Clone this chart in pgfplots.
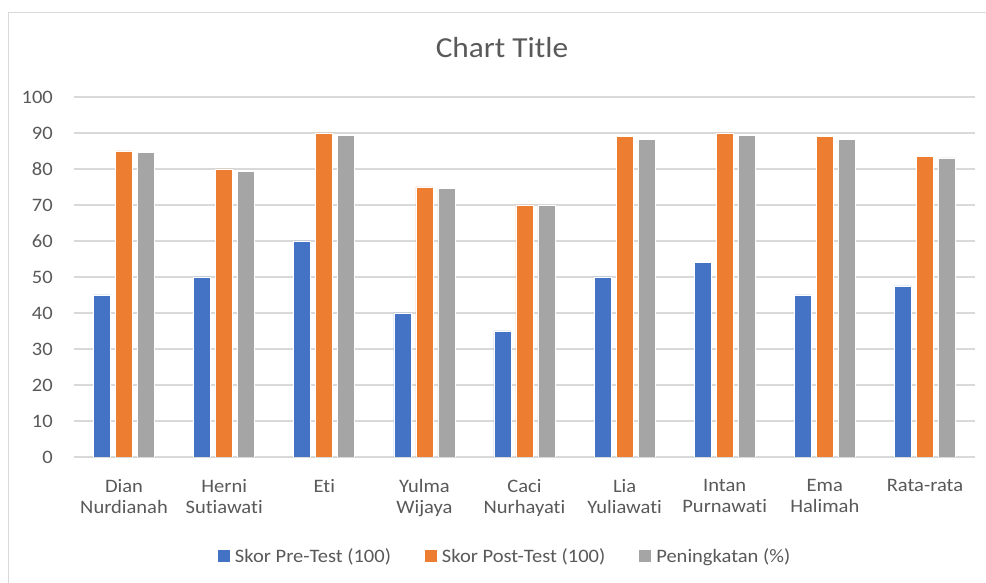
\documentclass[border=0pt]{standalone}
\usepackage{pgfplots}
\usepackage{pgfplotstable}
\pgfplotsset{compat=1.18}
\usepackage{fontspec}
\setmainfont{Carlito}[RawFeature={-liga}, FakeStretch=1.08]

\definecolor{xblue}{HTML}{4472C4}
\definecolor{xorange}{HTML}{ED7D31}
\definecolor{xgray}{HTML}{A5A5A5}
\definecolor{txt}{HTML}{595959}
\definecolor{gridc}{HTML}{D9D9D9}

% x  pre  post  naik
\pgfplotstableread{
x pre post naik
0 45   85   84.5
1 50   80   79.4
2 60   90   89.4
3 40   75   74.5
4 35   70   69.8
5 50   89   88.3
6 54   90   89.3
7 45   89   88.3
8 47.5 83.5 83.1
}\scores

\begin{document}
\begin{tikzpicture}
\clip (0,0) rectangle (986pt,583pt);
\useasboundingbox (0,0) rectangle (986pt,583pt);
\fill[white] (0,0) rectangle (986pt,583pt);
\draw[gridc, line width=1pt] (8pt,-20pt) rectangle (1010pt,570pt);
\begin{axis}[
    at={(74pt,126pt)}, anchor=south west,
    scale only axis,
    width=901pt, height=360pt,
    ybar=5pt, bar width=17pt,
    xmin=-0.5, xmax=8.5,
    ymin=0, ymax=100,
    ytick={0,10,...,100},
    xtick={0,...,8},
    xticklabels={{Dian\\Nurdianah},{Herni\\Sutiawati},{Eti},{Yulma\\Wijaya},{Caci\\Nurhayati},{Lia\\Yuliawati},{Intan\\Purnawati},{Ema\\Halimah},{Rata-rata}},
    axis line style={draw=none},
    tick style={draw=none},
    ymajorgrids=true,
    grid style={gridc, line width=1.3pt},
    /pgf/number format/assume math mode=true,
    yticklabel style={font=\fontsize{19}{21}\selectfont, text=txt, inner sep=0pt, anchor=east, xshift=-21pt},
    xticklabel style={font=\fontsize{19}{21}\selectfont, text=txt, align=center, inner sep=0pt, anchor=north, yshift=-18pt},
    title={Chart Title},
    title style={font=\fontsize{29}{34}\selectfont, text=txt, at={(0.475,1.094)}, anchor=base, inner sep=0pt},
    legend columns=3,
    legend style={draw=none, fill=none, at={(0.1598,-0.275)}, anchor=west,
        inner sep=0pt, outer sep=0pt,
        font=\fontsize{19}{21}\selectfont, text=txt,
        nodes={inner sep=0pt},
        column sep=5pt,
        /tikz/every even column/.append style={column sep=34pt}},
    legend image code/.code={\fill[#1,draw=none] (0pt,-6pt) rectangle (12pt,6pt);},
]
\addplot[fill=xblue, draw=white, line width=0.6pt] table[x=x, y=pre] {\scores};
\addplot[fill=xorange, draw=white, line width=0.6pt] table[x=x, y=post] {\scores};
\addplot[fill=xgray, draw=white, line width=0.6pt] table[x=x, y=naik] {\scores};
\legend{Skor Pre-Test (100), Skor Post-Test (100), Peningkatan (\%)}
\end{axis}
\end{tikzpicture}
\end{document}
